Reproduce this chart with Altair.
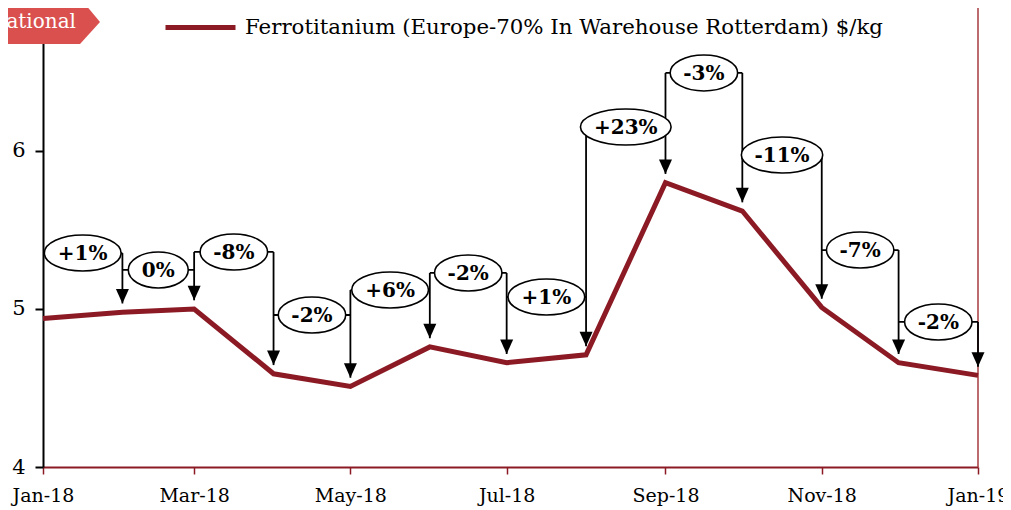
import altair as alt
import pandas as pd

# ---- data ----
month_starts = ["2018-01-01", "2018-02-01", "2018-03-01", "2018-04-01", "2018-05-01",
                "2018-06-01", "2018-07-01", "2018-08-01", "2018-09-01", "2018-10-01",
                "2018-11-01", "2018-12-01", "2019-01-01"]
prices = [4.94, 4.98, 5.00, 4.59, 4.51, 4.76, 4.66, 4.71, 5.80, 5.62, 5.01, 4.66, 4.58]
change_labels = ["+1%", "0%", "-8%", "-2%", "+6%", "-2%", "+1%", "+23%", "-3%", "-11%", "-7%", "-2%"]
label_levels = [5.354, 5.247, 5.361, 4.962, 5.120, 5.228, 5.076, 6.152, 6.494, 5.975, 5.373, 4.918]
series_name = "Ferrotitanium (Europe-70% In Warehouse Rotterdam) $/kg"
y_ticks = [4, 5, 6]

# ---- styling ----
LINE_COLOR = "#8B1A24"
BORDER_COLOR = "#A63A3F"
SERIF = "DejaVu Serif"
ARROW_GAP = 0.055
ELL_HALF_H = 18
LABEL_SIZE = 20

dates = pd.to_datetime(month_starts)

line_df = pd.DataFrame({"date": dates, "price": prices, "series": series_name})

char_w = {"+": 0.838, "-": 0.374, "%": 1.002}
def text_width(s, size=LABEL_SIZE):
    return sum(char_w.get(c, 0.696) for c in s) * size

def ellipse_path(w):
    a = w / 2
    b = ELL_HALF_H
    return f"M{-a},0A{a},{b} 0 1,0 {a},0A{a},{b} 0 1,0 {-a},0Z"

br_rows = []
for i, lab in enumerate(change_labels):
    d0, d1 = dates[i], dates[i + 1]
    br_rows.append({
        "start": d0, "end": d1, "mid": d0 + (d1 - d0) / 2,
        "level": label_levels[i], "label": lab,
        "path": ellipse_path(text_width(lab) + 26),
    })
br_df = pd.DataFrame(br_rows)

v_rows = []
for j in range(1, len(dates)):
    top = label_levels[j - 1]
    if j < len(change_labels):
        top = max(top, label_levels[j])
    v_rows.append({"date": dates[j], "top": top, "tip": prices[j] + ARROW_GAP})
v_df = pd.DataFrame(v_rows)

end_df = pd.DataFrame({"date": [dates[-1]]})
badge_df = pd.DataFrame({"t": ["ational"]})

x_scale = alt.Scale(domain=[dates[0].isoformat(), dates[-1].isoformat()], nice=False)
y_scale = alt.Scale(domain=[4, 6.905], nice=False, zero=False)
x_axis = alt.Axis(format="%b-%y", tickCount={"interval": "month", "step": 2},
                  labelOverlap=False, labelFlush=False, grid=False,
                  domainColor=LINE_COLOR, domainWidth=2, tickColor=LINE_COLOR,
                  tickWidth=1.5, tickSize=7, labelPadding=12, labelFont=SERIF,
                  labelFontSize=19, labelColor="black", title=None)
y_axis = alt.Axis(values=y_ticks, grid=False, domainColor="black", domainWidth=2,
                  tickColor="black", tickWidth=2, tickSize=8, labelPadding=10,
                  labelFont=SERIF, labelFontSize=21, labelColor="black", title=None)

def X(f, **kw):
    return alt.X(f, type="temporal", scale=x_scale, axis=x_axis, **kw)

def Y(f, **kw):
    return alt.Y(f, type="quantitative", scale=y_scale, axis=y_axis, **kw)

h_rules = alt.Chart(br_df).mark_rule(color="black", strokeWidth=1.8).encode(
    x=X("start"), x2="end", y=Y("level"))

v_rules = alt.Chart(v_df).mark_rule(color="black", strokeWidth=1.8).encode(
    x=X("date"), y=Y("top"), y2="tip")

arrows = alt.Chart(v_df).mark_point(
    shape="M-6.5,-14.5L6.5,-14.5L0,0Z", size=4, filled=True, fill="black",
    opacity=1, strokeWidth=0).encode(x=X("date"), y=Y("tip"))

ellipses = alt.Chart(br_df).mark_point(
    filled=True, fill="white", stroke="black", strokeWidth=1.6, size=4, opacity=1
).encode(x=X("mid"), y=Y("level"), shape=alt.Shape("path:N", scale=None, legend=None))

texts = alt.Chart(br_df).mark_text(
    font=SERIF, fontWeight="bold", fontSize=LABEL_SIZE, baseline="middle", dy=1, color="black"
).encode(x=X("mid"), y=Y("level"), text="label:N")

border = alt.Chart(end_df).mark_rule(color=BORDER_COLOR, strokeWidth=1.5).encode(x=X("date"))

price_line = alt.Chart(line_df).mark_line(strokeWidth=5).encode(
    x=X("date"), y=Y("price"),
    color=alt.Color("series:N", scale=alt.Scale(range=[LINE_COLOR]),
                    legend=alt.Legend(title=None, orient="none", legendX=120, legendY=-18,
                                      symbolType="stroke", symbolSize=4900,
                                      symbolStrokeWidth=5, labelFont=SERIF,
                                      labelFontSize=21.3, labelColor="black",
                                      labelLimit=0, labelOffset=7, padding=0)))

badge = alt.Chart(badge_df).mark_point(
    shape="M-50,-10L37,-10L57,14L37,36L-50,36Z", size=4, filled=True,
    fill="#D9504F", opacity=1, strokeWidth=0
).encode(x=alt.value(0), y=alt.value(0))

badge_text = alt.Chart(badge_df).mark_text(
    font=SERIF, fontSize=20, color="white", align="right", baseline="alphabetic"
).encode(x=alt.value(33), y=alt.value(20), text="t:N")

chart = alt.layer(
    border, h_rules, v_rules, arrows, ellipses, texts, price_line, badge, badge_text
).properties(
    width=935, height=459, autosize="none",
    padding={"left": 35, "top": 0, "right": 25, "bottom": 42}
).configure_view(stroke=None)

chart.save("out.html", embed_options={"renderer": "svg", "actions": False})
